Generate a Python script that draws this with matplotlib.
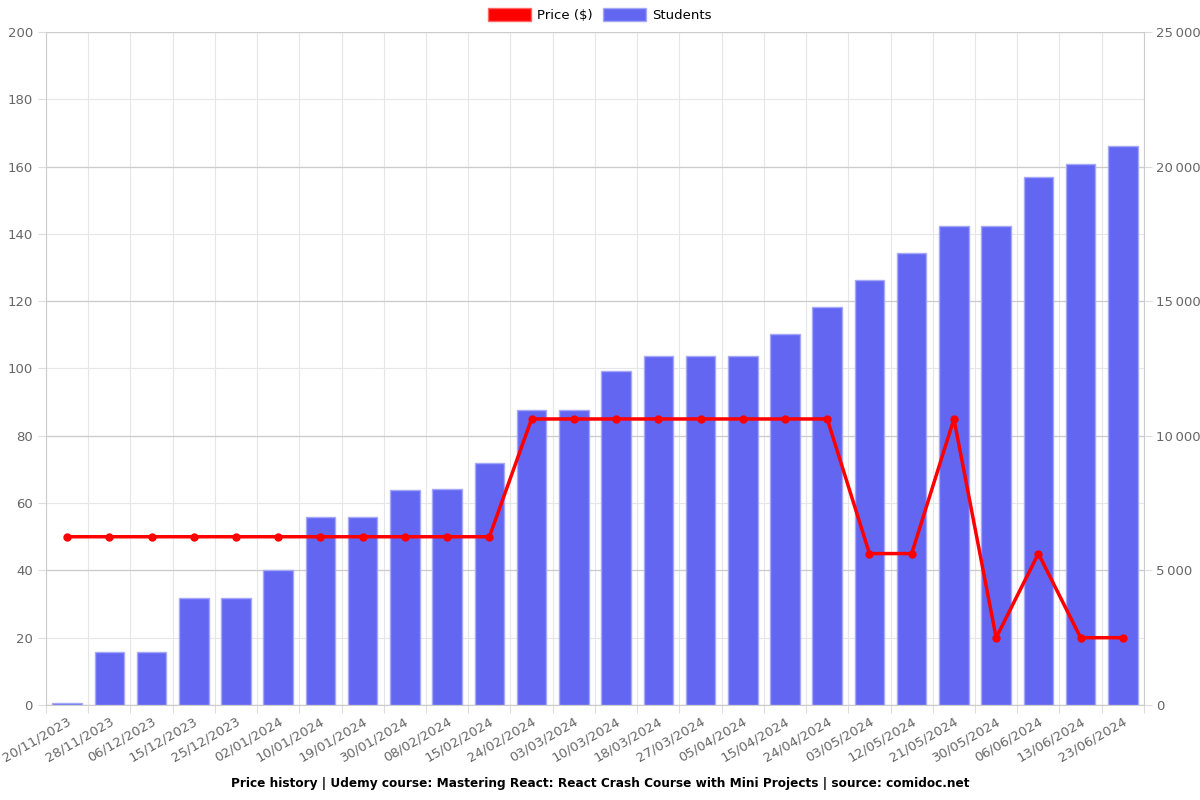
import matplotlib.pyplot as plt
import numpy as np
from matplotlib.patches import Patch

dates = ["20/11/2023", "28/11/2023", "06/12/2023", "15/12/2023", "25/12/2023",
         "02/01/2024", "10/01/2024", "19/01/2024", "30/01/2024", "08/02/2024",
         "15/02/2024", "24/02/2024", "03/03/2024", "10/03/2024", "18/03/2024",
         "27/03/2024", "05/04/2024", "15/04/2024", "24/04/2024", "03/05/2024",
         "12/05/2024", "21/05/2024", "30/05/2024", "06/06/2024", "13/06/2024",
         "23/06/2024"]
students = [70, 1970, 1970, 3975, 3975, 5015, 6985, 6985, 7990, 8025,
            8990, 10960, 10960, 12400, 12960, 12960, 12960, 13780, 14785, 15770,
            16780, 17775, 17775, 19605, 20085, 20780]
price = [50, 50, 50, 50, 50, 50, 50, 50, 50, 50,
         50, 85, 85, 85, 85, 85, 85, 85, 85, 45,
         45, 85, 20, 45, 20, 20]

price_ticks = np.arange(0, 201, 20)
student_ticks = np.arange(0, 25001, 5000)
price_max, student_max = 200, 25000

fig = plt.figure(figsize=(12, 8), dpi=100)
ax = fig.add_axes([0.0383, 0.11875, 0.915, 0.84125])
ax2 = ax.twinx()

x = np.arange(len(dates))
edges = np.arange(-0.5, len(dates), 1.0)
tick_col = "#666666"

# grid lines live on ax2 so they sit behind the bars
ax2.set_axisbelow(True)
for t in price_ticks:
    ax2.axhline(t * student_max / price_max, color="#e6e6e6", linewidth=0.8, zorder=0)
for e in edges:
    ax2.axvline(e, color="#e6e6e6", linewidth=0.8, zorder=0)
ax2.grid(axis="y", color="#cccccc", linewidth=0.9, zorder=0)

# students bars on the right axis
ax2.bar(x, students, width=0.7, color="#6366f1", edgecolor="#a5a7f7", linewidth=1, zorder=2)
ax2.set_ylim(0, student_max)
ax2.set_yticks(student_ticks)
ax2.set_yticklabels([f"{v:,}".replace(",", "\u2009") for v in student_ticks])

# price line on the left axis, drawn on top
ax.set_zorder(ax2.get_zorder() + 1)
ax.patch.set_visible(False)
ax.plot(x, price, color="#ff0000", linewidth=2.5, marker="o", markersize=5, zorder=5)
ax.set_ylim(0, price_max)
ax.set_yticks(price_ticks)
ax.set_xlim(-0.5, len(dates) - 0.5)

# ticks at category edges, labels at centres
ax.set_xticks(edges)
ax.set_xticklabels([])
ax.set_xticks(x, minor=True)
ax.set_xticklabels(dates, minor=True, rotation=30, ha="right", rotation_mode="anchor")
ax.tick_params(axis="x", which="minor", length=0, pad=7, labelsize=9.5, labelcolor=tick_col)
ax.tick_params(axis="x", which="major", length=6, color="#dddddd")
ax.tick_params(axis="y", length=6, color="#dddddd", labelsize=9.5, labelcolor=tick_col)
ax2.tick_params(axis="y", length=6, color="#dddddd", labelsize=9.5, labelcolor=tick_col, pad=3)

for a in (ax, ax2):
    for s in a.spines.values():
        s.set_visible(False)
ax.spines["left"].set_visible(True)
ax.spines["left"].set_color("#cccccc")
ax.spines["bottom"].set_visible(True)
ax.spines["bottom"].set_color("#cccccc")
ax2.spines["right"].set_visible(True)
ax2.spines["right"].set_color("#cccccc")

handles = [Patch(facecolor="#ff0000", edgecolor="#ff6666"),
           Patch(facecolor="#6366f1", edgecolor="#a5a7f7")]
fig.legend(handles, ["Price ($)", "Students"], loc="upper center",
           bbox_to_anchor=(0.5, 1.005), ncol=2, frameon=False, fontsize=9.5,
           handlelength=3.2, handleheight=1.1, columnspacing=0.8, handletextpad=0.5)

fig.text(0.5, 0.012, "Price history | Udemy course: Mastering React: React Crash Course with Mini Projects | source: comidoc.net",
         ha="center", va="bottom", fontsize=8.7, fontweight="bold")

fig.savefig("out.png", dpi=100)
